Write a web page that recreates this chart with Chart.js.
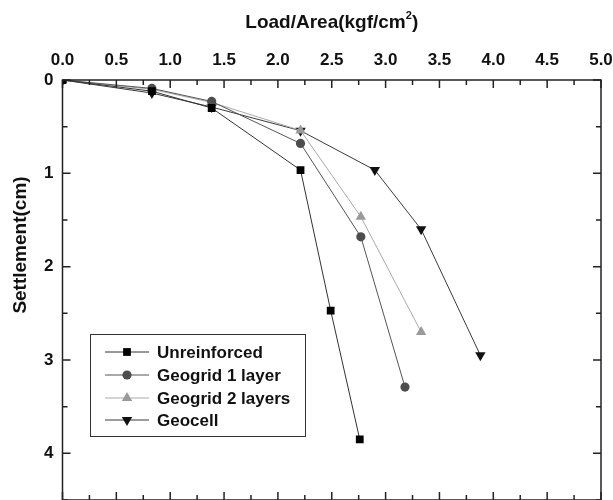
<!DOCTYPE html>
<html lang="en">
<head>
    <meta charset="UTF-8">
    <title>Load - Settlement</title>
    <style>
      html, body { margin: 0; padding: 0; background: #fff; overflow: hidden; }
      canvas { display: block; }
    </style>
</head>
<body>
    <canvas id="settlementChart" width="613" height="500"></canvas>

<script src="https://cdn.jsdelivr.net/npm/chart.js"></script>
<script>
  // load (kgf/cm2) vs settlement (cm) for each reinforcement case
  const seriesNames = ['Unreinforced', 'Geogrid 1 layer', 'Geogrid 2 layers', 'Geocell'];

  const unreinforcedLoad   = [0, 0.83, 1.385, 2.21, 2.49, 2.76];
  const unreinforcedSettle = [0, 0.12, 0.30, 0.965, 2.47, 3.85];

  const geogrid1Load   = [0, 0.83, 1.385, 2.21, 2.77, 3.18];
  const geogrid1Settle = [0, 0.09, 0.23, 0.68, 1.68, 3.29];

  const geogrid2Load   = [0, 0.83, 1.385, 2.21, 2.77, 3.33];
  const geogrid2Settle = [0, 0.10, 0.24, 0.54, 1.465, 2.70];

  const geocellLoad   = [0, 0.83, 1.385, 2.21, 2.90, 3.33, 3.88];
  const geocellSettle = [0, 0.14, 0.29, 0.543, 0.965, 1.60, 2.95];

  const xTicks = [0, 0.5, 1, 1.5, 2, 2.5, 3, 3.5, 4, 4.5, 5];
  const yTicks = [0, 1, 2, 3, 4];

  const FONT = '"Liberation Sans", Arial, sans-serif';
  const AXIS = '#222';

  function pts(xs, ys) {
    return xs.map((x, i) => ({ x: x, y: ys[i] }));
  }

  function series(label, xs, ys, marker, markerColor, lineColor, radius, rotation) {
    return {
      label: label,
      data: pts(xs, ys),
      showLine: true,
      borderColor: lineColor,
      borderWidth: 1,
      pointStyle: marker,
      pointRotation: rotation || 0,
      pointRadius: radius,
      pointHoverRadius: radius,
      pointBackgroundColor: markerColor,
      pointBorderColor: markerColor,
      pointBorderWidth: 0,
      tension: 0
    };
  }

  // inward ticks on all four sides + frame, titles and boxed legend
  const framePlugin = {
    id: 'frame',
    afterDraw(chart) {
      const c = chart.ctx;
      const a = chart.chartArea;
      const xs = chart.scales.x, ys = chart.scales.y;
      c.save();
      c.strokeStyle = AXIS;
      c.lineWidth = 1.5;
      c.strokeRect(a.left, a.top, a.right - a.left, a.bottom - a.top);

      c.beginPath();
      for (let i = 0; i <= 20; i++) {
        const px = xs.getPixelForValue(i * 0.25);
        const len = (i % 2 === 0) ? 8 : 5;
        c.moveTo(px, a.top); c.lineTo(px, a.top + len);
        c.moveTo(px, a.bottom); c.lineTo(px, a.bottom - len);
      }
      for (let i = 0; i <= 9; i++) {
        const py = ys.getPixelForValue(i * 0.5);
        const len = (i % 2 === 0) ? 8 : 5;
        c.moveTo(a.left, py); c.lineTo(a.left + len, py);
        c.moveTo(a.right, py); c.lineTo(a.right - len, py);
      }
      c.stroke();

      // x title with superscript
      c.fillStyle = '#111';
      c.textBaseline = 'alphabetic';
      c.font = 'bold 19px ' + FONT;
      const t1 = 'Load/Area(kgf/cm', t2 = '2', t3 = ')';
      const w1 = c.measureText(t1).width, w3 = c.measureText(t3).width;
      c.font = 'bold 11px ' + FONT;
      const w2 = c.measureText(t2).width;
      const cx = (a.left + a.right) / 2;
      const tx = cx - (w1 + w2 + w3) / 2;
      const base = 28;
      c.font = 'bold 19px ' + FONT;
      c.textAlign = 'left';
      c.fillText(t1, tx, base);
      c.font = 'bold 11px ' + FONT;
      c.fillText(t2, tx + w1, base - 9);
      c.font = 'bold 19px ' + FONT;
      c.fillText(t3, tx + w1 + w2, base);

      // y title
      c.save();
      c.translate(26, 245);
      c.rotate(-Math.PI / 2);
      c.textAlign = 'center';
      c.fillText('Settlement(cm)', 0, 0);
      c.restore();

      // legend
      const box = { l: 90, t: 334, r: 305, b: 436 };
      c.lineWidth = 1;
      c.strokeStyle = '#333';
      c.strokeRect(box.l + 0.5, box.t + 0.5, box.r - box.l, box.b - box.t);
      const rows = [352, 375, 398, 420];
      chart.data.datasets.forEach((ds, i) => {
        const y = rows[i];
        c.strokeStyle = ds.borderColor;
        c.lineWidth = 1;
        c.beginPath();
        c.moveTo(105, y); c.lineTo(149, y);
        c.stroke();
        c.fillStyle = ds.pointBackgroundColor;
        c.strokeStyle = ds.pointBorderColor;
        Chart.helpers.drawPoint(c, {
          pointStyle: ds.pointStyle,
          rotation: ds.pointRotation,
          radius: ds.pointRadius,
          borderWidth: 0
        }, 127, y);
        c.fillStyle = '#111';
        c.font = 'bold 17px ' + FONT;
        c.textAlign = 'left';
        c.textBaseline = 'middle';
        c.fillText(ds.label, 157, y + 1);
      });
      c.restore();
    }
  };

  const ctx = document.getElementById('settlementChart').getContext('2d');
  const settlementChart = new Chart(ctx, {
    type: 'scatter',
    data: {
      datasets: [
        series(seriesNames[0], unreinforcedLoad, unreinforcedSettle, 'rect', '#000', '#333', 5.5),
        series(seriesNames[1], geogrid1Load, geogrid1Settle, 'circle', '#4d4d4d', '#555', 4.6),
        series(seriesNames[2], geogrid2Load, geogrid2Settle, 'triangle', '#9a9a9a', '#aaa', 6),
        series(seriesNames[3], geocellLoad, geocellSettle, 'triangle', '#111', '#3a3a3a', 6, 180)
      ]
    },
    options: {
      responsive: false,
      animation: false,
      layout: { autoPadding: false, padding: { top: 0, right: 12, bottom: 0, left: 0 } },
      plugins: {
        legend: { display: false },
        tooltip: { enabled: false }
      },
      scales: {
        x: {
          type: 'linear',
          position: 'top',
          min: 0,
          max: 5,
          afterBuildTicks: s => { s.ticks = xTicks.map(v => ({ value: v })); },
          afterFit: s => { s.height = 80; s.paddingLeft = 0; s.paddingRight = 0; },
          grid: { display: false, drawTicks: false },
          border: { display: false },
          ticks: {
            padding: 9,
            color: '#111',
            font: { family: FONT, size: 17, weight: 'bold' },
            callback: v => v.toFixed(1),
            maxRotation: 0,
            autoSkip: false
          }
        },
        y: {
          type: 'linear',
          reverse: true,
          min: 0,
          max: 4.5,
          afterBuildTicks: s => { s.ticks = yTicks.map(v => ({ value: v })); },
          afterFit: s => { s.width = 62.5; s.paddingTop = 0; s.paddingBottom = 0; },
          grid: { display: false, drawTicks: false },
          border: { display: false },
          ticks: {
            padding: 9,
            color: '#111',
            font: { family: FONT, size: 17, weight: 'bold' },
            callback: v => String(v),
            autoSkip: false
          }
        }
      }
    },
    plugins: [framePlugin]
  });
</script>

</body>
</html>
